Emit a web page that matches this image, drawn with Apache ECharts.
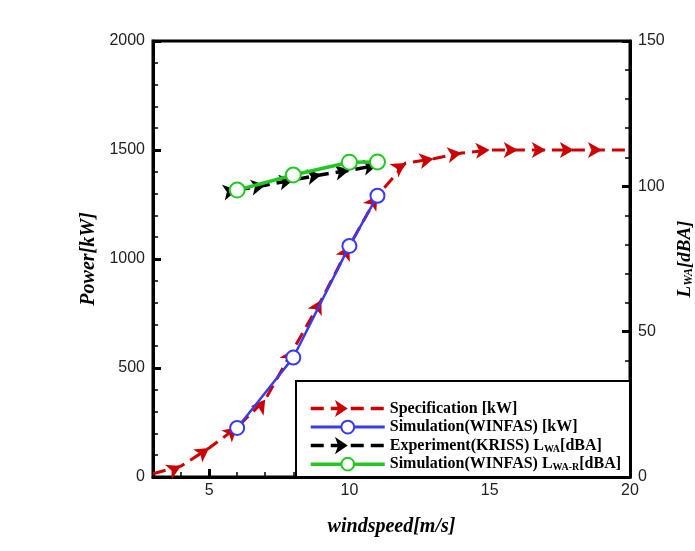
<!DOCTYPE html>
<html><head><meta charset="utf-8">
<script src="https://cdn.jsdelivr.net/npm/echarts@6/dist/echarts.min.js"></script>
<style>html,body{margin:0;padding:0;background:#fff}#c{width:695px;height:551px}</style>
</head><body><div id="c"></div>
<script>
// ---- data ----
const specX = [3,4,5,6,7,8,9,10,11,12,13,14,15,16,17,18,19,20];
const specP = [15,50,133,228,355,585,812,1060,1290,1440,1460,1486,1500,1500,1500,1500,1500,1500];
const simX = [6,8,10,11];
const simP = [225,548,1060,1290];
const expX = [6,7,8,9,10,11];
const expL = [98.7,100.4,102.2,104.0,105.5,107.3];
const simLX = [6,8,10,11];
const simL = [98.7,103.9,108.3,108.4];
const leftTicks = {min:0, max:2000, interval:500};
const rightTicks = {min:0, max:150, interval:50};
const xRange = {min:3, max:20};

const RED = '#cc0000', BLUE = '#3a3aee', GREEN = '#22c822', BLACK = '#000';
const serif = '"Liberation Serif","Times New Roman",serif';
const sans = '"Liberation Sans",Arial,sans-serif';

const chart = echarts.init(document.getElementById('c'));

function pts(xs, ys){ return xs.map((x,i)=>[x, ys[i]]); }
const plain = v => String(v);

const baseOption = {
  animation:false,
  backgroundColor:'#fff',
  grid:{left:153, right:65, top:41, bottom:74, outerBoundsMode:'none', containLabel:false,
    show:true, borderColor:'#000', borderWidth:3, backgroundColor:'transparent'},
  xAxis:{type:'value', min:xRange.min, max:xRange.max, splitNumber:3,
    name:'windspeed[m/s]', nameLocation:'middle', nameGap:40,
    nameTextStyle:{fontFamily:serif, fontStyle:'italic', fontWeight:'bold', fontSize:20, color:'#000'},
    axisLine:{lineStyle:{color:'#000', width:3}},
    axisTick:{inside:true, length:8, lineStyle:{color:'#000', width:3}},
    minorTick:{show:true, splitNumber:5, length:5, lineStyle:{color:'#000', width:1.5}},
    axisLabel:{showMinLabel:false, margin:6, fontFamily:sans, fontSize:16, color:'#222', formatter:plain},
    splitLine:{show:false}},
  yAxis:[
    {type:'value', min:leftTicks.min, max:leftTicks.max, interval:leftTicks.interval, position:'left',
     name:'Power[kW]', nameLocation:'middle', nameGap:52, nameRotate:90,
     nameTextStyle:{fontFamily:serif, fontStyle:'italic', fontWeight:'bold', fontSize:20, color:'#000'},
     axisLine:{show:true, lineStyle:{color:'#000', width:3}},
     axisTick:{inside:true, length:8, lineStyle:{color:'#000', width:3}},
     minorTick:{show:true, splitNumber:5, length:5, lineStyle:{color:'#000', width:1.5}},
     axisLabel:{margin:8, fontFamily:sans, fontSize:16, color:'#222', formatter:plain},
     splitLine:{show:false}},
    {type:'value', min:rightTicks.min, max:rightTicks.max, interval:rightTicks.interval, position:'right',
     name:'{i|L}{s|WA}{i|[dBA]}', nameLocation:'middle', nameGap:42, nameRotate:90,
     nameTextStyle:{rich:{
       i:{fontFamily:serif, fontStyle:'italic', fontWeight:'bold', fontSize:19, color:'#000'},
       s:{fontFamily:serif, fontStyle:'italic', fontWeight:'bold', fontSize:12, color:'#000', verticalAlign:'bottom', padding:[8,0,0,0]}}},
     axisLine:{show:true, lineStyle:{color:'#000', width:3}},
     axisTick:{inside:true, length:8, lineStyle:{color:'#000', width:3}},
     minorTick:{show:true, splitNumber:5, length:5, lineStyle:{color:'#000', width:1.5}},
     axisLabel:{margin:8, fontFamily:sans, fontSize:16, color:'#222', formatter:plain},
     splitLine:{show:false}}
  ],
  legend:{orient:'vertical', left:304, top:395, itemWidth:74, itemHeight:16, itemGap:2, z:20,
    selectedMode:false,
    textStyle:{fontFamily:serif, fontWeight:'bold', fontSize:16, color:'#000',
      rich:{b:{fontFamily:serif, fontWeight:'bold', fontSize:16, color:'#000'},
            s:{fontFamily:serif, fontWeight:'bold', fontSize:10, color:'#000', verticalAlign:'bottom', padding:[7,0,0,0]}}},
    formatter:function(n){
      if(n==='exp') return '{b|Experiment(KRISS) L}{s|WA}{b|[dBA]}';
      if(n==='simL') return '{b|Simulation(WINFAS) L}{s|WA-R}{b|[dBA]}';
      return n;
    },
    data:[
      {name:'Specification [kW]', lineStyle:{width:3.5}},
      {name:'Simulation(WINFAS) [kW]', lineStyle:{width:3}},
      {name:'exp', lineStyle:{width:3.5}},
      {name:'simL', lineStyle:{width:3.5}}
    ]},
  graphic:[{type:'rect', z:15, shape:{x:296, y:381, width:334, height:96},
    style:{fill:'#fff', stroke:'#000', lineWidth:2}}],
  series:[]
};

function makeSeries(rot){
  return [
    {name:'Specification [kW]', type:'line', yAxisIndex:0, z:3,
     data:specX.map((x,i)=>{
       const d={value:[x,specP[i]]};
       if(rot) d.symbolRotate=rot.spec[i];
       if(i===0||i===specX.length-1) d.symbol='none';
       return d;}),
     symbol:'arrow', symbolSize:[12,14], symbolRotate:-90, showAllSymbol:true,
     lineStyle:{color:RED, width:3, type:[13,7]}, itemStyle:{color:RED}},
    {name:'Simulation(WINFAS) [kW]', type:'line', yAxisIndex:0, z:4,
     data:pts(simX,simP), symbol:'emptyCircle', symbolSize:14,
     lineStyle:{color:BLUE, width:2.5}, itemStyle:{color:BLUE, borderWidth:2.5}},
    {name:'exp', type:'line', yAxisIndex:1, z:3,
     data:expX.map((x,i)=>{const d={value:[x,expL[i]]}; if(rot) d.symbolRotate=rot.exp[i]; return d;}),
     symbol:'arrow', symbolSize:[12,14], symbolRotate:-90,
     lineStyle:{color:BLACK, width:3.5, type:[13,7]}, itemStyle:{color:BLACK}},
    {name:'simL', type:'line', yAxisIndex:1, z:4,
     data:pts(simLX,simL), symbol:'emptyCircle', symbolSize:15,
     lineStyle:{color:GREEN, width:3.5}, itemStyle:{color:GREEN, borderWidth:3}}
  ];
}

baseOption.series = makeSeries(null);
chart.setOption(baseOption);

function rotations(xs, ys, yi){
  const p = xs.map((x,i)=>chart.convertToPixel({xAxisIndex:0, yAxisIndex:yi}, [x, ys[i]]));
  return p.map((q,i)=>{
    const a=p[Math.max(0,i-1)], b=p[Math.min(p.length-1,i+1)];
    return Math.atan2(-(b[1]-a[1]), b[0]-a[0])*180/Math.PI - 90;
  });
}
const rot = {spec:rotations(specX,specP,0), exp:rotations(expX,expL,1)};
chart.setOption({series:makeSeries(rot)});
</script></body></html>
